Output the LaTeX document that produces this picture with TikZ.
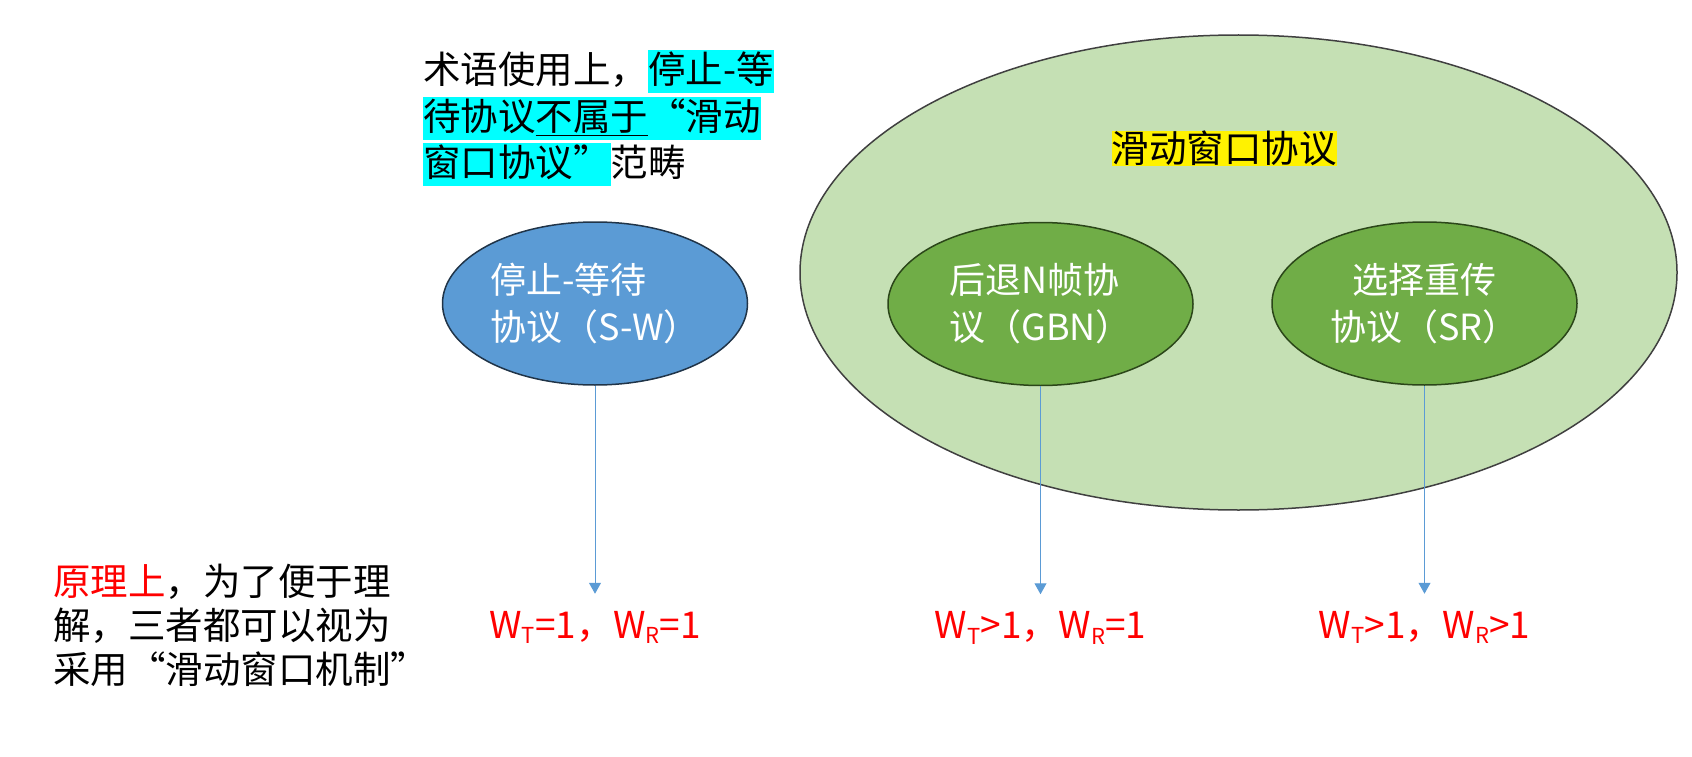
\documentclass[tikz,border=0pt]{standalone}
\usepackage{fontspec}
\setmainfont{Noto Sans CJK SC}
\usepackage{tikz}
\usetikzlibrary{shapes.geometric, positioning, arrows.meta}
\tikzset{>={Triangle[length=11pt,width=12pt]}}
\definecolor{swpgreen}{HTML}{C5E0B4}
\definecolor{swpline}{HTML}{404040}
\definecolor{swblue}{HTML}{5B9BD5}
\definecolor{swline}{HTML}{203448}
\definecolor{gbngreen}{HTML}{70AD47}
\definecolor{gbnline}{HTML}{2B4619}
\definecolor{hlcyancol}{HTML}{00FFFF}
\newcommand{\hlcyan}[1]{{\setlength{\fboxsep}{0pt}\colorbox{hlcyancol}{\rule[-0.25em]{0pt}{1.15em}#1}}}
\newcommand{\wsub}[1]{\raisebox{-0.15em}{\fontsize{22}{22}\selectfont #1}}

\begin{document}
\begin{tikzpicture}[x=1pt, y=-1pt,
	proto/.style={ellipse, line width=1.5pt, minimum width=305pt, minimum height=163pt, inner sep=0pt, text=white, align=center, font=\fontsize{36}{47}\selectfont},
	wlab/.style={text=red, inner xsep=0pt, inner ysep=17pt, font=\fontsize{37}{44}\selectfont},
	note/.style={anchor=north west, inner sep=0pt, align=left, text=black}]
			\useasboundingbox (0,0) rectangle (1692,757);
			% outer set: sliding window
			\node [ellipse, draw=swpline, line width=1.5pt, fill=swpgreen, minimum width=877pt, minimum height=475pt] (swp) at (1238.5,272.5) {};
			\node [fill=yellow, inner sep=0pt, font=\fontsize{37.5}{46}\selectfont] (swptitle) at (1224,148.5) {滑动窗口协议};
			% the three protocols
			\node [proto, fill=swblue, draw=swline, align=left] (sw) at (595,303.5) {停止-等待\\协议（S-W）};
			\node [proto, fill=gbngreen, draw=gbnline, align=left] (gbn) at (1040.5,304) {后退N帧协\\议（GBN）};
			\node [proto, fill=gbngreen, draw=gbnline] (sr) at (1424.5,303.5) {选择重传\\协议（SR）};
			% window sizes
			\node [wlab, below=208pt of sw] (wsw) {W\wsub{T}=1，W\wsub{R}=1};
			\node [wlab, below=208pt of gbn] (wgbn) {W\wsub{T}>1，W\wsub{R}=1};
			\node [wlab, below=208pt of sr] (wsr) {W\wsub{T}>1，W\wsub{R}>1};
			\draw [->, swblue, line width=1pt] (sw) -- (wsw);
			\draw [->, swblue, line width=1pt] (gbn) -- (wgbn);
			\draw [->, swblue, line width=1pt] (sr) -- (wsr);
			% notes
			\node [note, font=\fontsize{37.5}{46.5}\selectfont] (term) at (423,50) {术语使用上，\hlcyan{停止-等}\\\hlcyan{待协议\underline{不属于}“滑动}\\\hlcyan{窗口协议”}范畴};
			\node [note, font=\fontsize{37.5}{44}\selectfont] (idea) at (53,564) {\textcolor{red}{原理上}，为了便于理\\解，三者都可以视为\\采用“滑动窗口机制”};
		\end{tikzpicture}
\end{document}
